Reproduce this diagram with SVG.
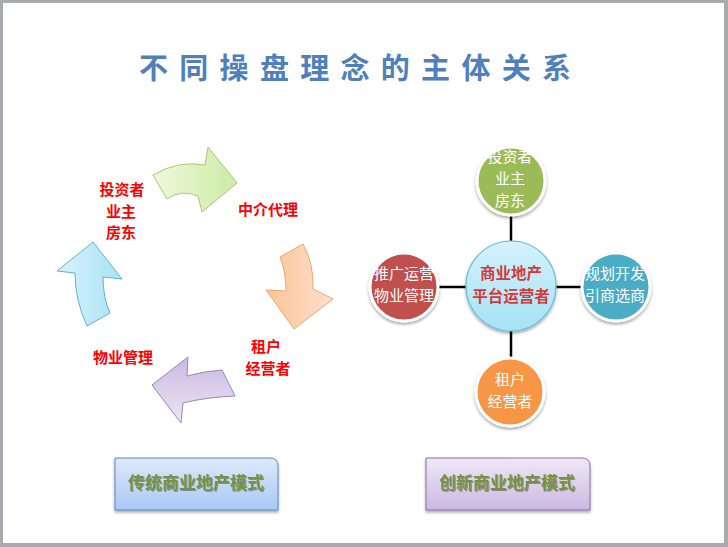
<svg xmlns="http://www.w3.org/2000/svg" width="728" height="547" viewBox="0 0 728 547">
<style>
.lbl{font-family:"Noto Sans CJK SC","Liberation Sans",sans-serif;font-weight:700;font-size:15px;fill:#ff0000;text-anchor:middle}
.wt{font-family:"Noto Sans CJK SC","Liberation Sans",sans-serif;font-size:15px;fill:#ffffff;text-anchor:middle}
.ct{font-family:"Noto Sans CJK SC","Liberation Sans",sans-serif;font-weight:700;font-size:15.5px;fill:#d23a3a;text-anchor:middle}
.bt{font-family:"Noto Sans CJK SC","Liberation Serif",serif;font-weight:700;font-size:17px;fill:#76923c;text-anchor:middle}
.conn{stroke:#000;stroke-width:2.5}
.sat{stroke:#fff;stroke-width:3}
</style>
<defs>
<linearGradient id="gG" x1="0" y1="0" x2="1" y2="0"><stop offset="0" stop-color="#eef8dc"/><stop offset="1" stop-color="#cdeca6"/></linearGradient>
<linearGradient id="gO" x1="0" y1="0" x2="1" y2="0"><stop offset="0" stop-color="#fbc49a"/><stop offset="1" stop-color="#fde0c9"/></linearGradient>
<linearGradient id="gP" x1="0" y1="0" x2="0" y2="1"><stop offset="0" stop-color="#c9bae2"/><stop offset="1" stop-color="#ebe5f3"/></linearGradient>
<linearGradient id="gB" x1="0" y1="0" x2="1" y2="0"><stop offset="0" stop-color="#d9f3fb"/><stop offset="1" stop-color="#a9e2f5"/></linearGradient>
<linearGradient id="gC" x1="0" y1="0" x2="0" y2="1"><stop offset="0" stop-color="#d4f2fb"/><stop offset="1" stop-color="#a6e2f6"/></linearGradient>
<linearGradient id="gBox1" x1="0" y1="0" x2="0" y2="1"><stop offset="0" stop-color="#dde9fb"/><stop offset="1" stop-color="#a9c8f4"/></linearGradient>
<linearGradient id="gBox2" x1="0" y1="0" x2="0" y2="1"><stop offset="0" stop-color="#efe8f6"/><stop offset="1" stop-color="#cbb8e2"/></linearGradient>
<filter id="sh" x="-20%" y="-20%" width="140%" height="150%"><feDropShadow dx="0" dy="2" stdDeviation="1.5" flood-color="#000" flood-opacity="0.35"/></filter>
<filter id="tsh" x="-10%" y="-20%" width="120%" height="150%"><feDropShadow dx="1" dy="1" stdDeviation="0.6" flood-color="#000" flood-opacity="0.35"/></filter>
</defs>
<rect x="0" y="0" width="728" height="547" fill="#a7aaae"/>
<rect x="3" y="3" width="721" height="540" fill="#ffffff"/>
<text x="355" y="79" font-family="Noto Sans CJK SC,sans-serif" font-size="29" font-weight="700" fill="#4f80bd" text-anchor="middle" textLength="432" lengthAdjust="spacing">不同操盘理念的主体关系</text>

<g id="cycle">
<g id="arrow-green"><path d="M153,175 Q178,160 205,165 L208,147 L237,183 L202,212 L198,196 Q181,189 167,199 Z" fill="url(#gG)" stroke="#a7c96f" stroke-width="1"/></g>
<g id="arrow-orange"><path d="M280,257 L303,244 Q314,264 313,289 L333,299 L294,329 L266,290 L286,291 Q286,272 280,257 Z" fill="url(#gO)" stroke="#f4a46c" stroke-width="1"/></g>
<g id="arrow-purple"><path d="M152,385 L188,357 L187,376 Q205,371 222,370 L235,396 Q207,397 183,403 L181,423 Z" fill="url(#gP)" stroke="#9a84bf" stroke-width="1"/></g>
<g id="arrow-blue"><path d="M93,242 L122,279 L103,277 Q103,298 110,313 L87,326 Q75,300 75,273 L57,271 Z" fill="url(#gB)" stroke="#5ab4cf" stroke-width="1"/></g>
<g id="lbl-investor"><text class="lbl" x="122" y="195">投资者</text><text class="lbl" x="121" y="217">业主</text><text class="lbl" x="121" y="238">房东</text></g>
<g id="lbl-agent"><text class="lbl" x="268" y="215">中介代理</text></g>
<g id="lbl-tenant"><text class="lbl" x="266" y="352">租户</text><text class="lbl" x="268" y="374">经营者</text></g>
<g id="lbl-pm"><text class="lbl" x="123" y="363">物业管理</text></g>
</g>

<g id="connectors">
<line class="conn" x1="511" y1="181" x2="511" y2="392"/>
<line class="conn" x1="404" y1="287" x2="616" y2="287"/>
</g>

<g id="node-center"><circle cx="511" cy="286" r="45" fill="url(#gC)" stroke="#6cc0dc" stroke-width="1.2" filter="url(#sh)"/><text class="ct" x="511" y="279">商业地产</text><text class="ct" x="511" y="301.5">平台运营者</text></g>
<g id="node-top"><circle class="sat" cx="511" cy="181" r="34" fill="#9bbb59" filter="url(#sh)"/><text class="wt" x="510" y="162">投资者</text><text class="wt" x="510" y="184">业主</text><text class="wt" x="510" y="206">房东</text></g>
<g id="node-left"><circle class="sat" cx="404" cy="287" r="34" fill="#c0504d" filter="url(#sh)"/><text class="wt" x="404" y="279">推广运营</text><text class="wt" x="404" y="301">物业管理</text></g>
<g id="node-right"><circle class="sat" cx="616" cy="287" r="34" fill="#4bacc6" filter="url(#sh)"/><text class="wt" x="615" y="279">规划开发</text><text class="wt" x="615" y="301">引商选商</text></g>
<g id="node-bottom"><circle class="sat" cx="510" cy="392" r="34" fill="#f79646" filter="url(#sh)"/><text class="wt" x="510" y="385">租户</text><text class="wt" x="510" y="407">经营者</text></g>

<g id="box-traditional"><path d="M115,458 H270 Q278,458 278,466 V510 H115 Z" fill="url(#gBox1)" stroke="#5b87c4" stroke-width="1" filter="url(#sh)"/><text class="bt" x="196" y="489" filter="url(#tsh)">传统商业地产模式</text></g>
<g id="box-innovative"><path d="M426,458 H582 Q590,458 590,466 V510 H426 Z" fill="url(#gBox2)" stroke="#8a6eb0" stroke-width="1" filter="url(#sh)"/><text class="bt" x="507" y="489" filter="url(#tsh)">创新商业地产模式</text></g>
</svg>
